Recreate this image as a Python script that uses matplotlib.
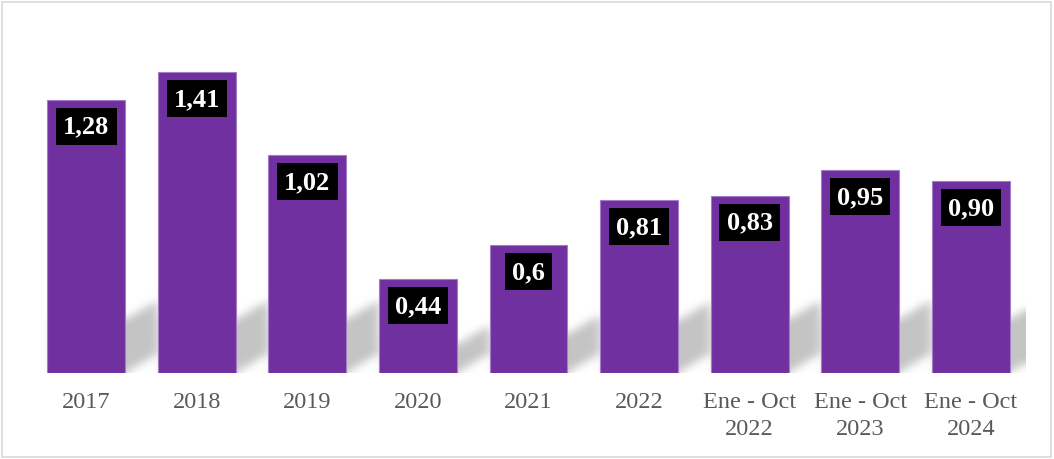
import numpy as np
import matplotlib.pyplot as plt
from matplotlib.patches import Rectangle

categories = ['2017', '2018', '2019', '2020', '2021', '2022',
              'Ene - Oct\n2022', 'Ene - Oct\n2023', 'Ene - Oct\n2024']
values = [1.28, 1.41, 1.02, 0.44, 0.6, 0.81, 0.83, 0.95, 0.90]
value_labels = ['1,28', '1,41', '1,02', '0,44', '0,6', '0,81', '0,83', '0,95', '0,90']

purple = '#7030A0'
bar_w = 0.705

fig = plt.figure(figsize=(10.54, 4.6), dpi=100)
ax = fig.add_axes([31 / 1054, 86 / 460, 995 / 1054, 341.4 / 460])
x = np.arange(len(categories))

# soft shadow behind the bars: band that rises to the right of each bar, then blurred
nx, ny = 1000, 120
sx = np.linspace(-0.5, 8.5, nx)
sy = np.linspace(0, 0.5, ny)
XX, YY = np.meshgrid(sx, sy)
mask = np.zeros_like(XX)
slope = 0.6 * 110.6 / 213.4
for i, v in enumerate(values):
    xl, xr = i - bar_w / 2, i + bar_w / 2
    h = min(0.3 * v, 0.25)
    b = np.clip(XX - xr, 0, None) * slope
    inside = (XX >= xl + 0.05) & (XX <= xr + 0.3) & (YY >= b) & (YY <= b + h)
    mask = np.maximum(mask, inside.astype(float))

def blur(a, sigma, axis):
    r = int(sigma * 3)
    k = np.exp(-0.5 * (np.arange(-r, r + 1) / sigma) ** 2)
    k /= k.sum()
    pad = [(0, 0), (0, 0)]
    pad[axis] = (r, r)
    a = np.pad(a, pad, mode='edge')
    out = np.apply_along_axis(lambda m: np.convolve(m, k, mode='valid'), axis, a)
    return out

mask = blur(blur(mask, 5, 1), 4.5, 0)
img = np.zeros((ny, nx, 4))
img[..., :3] = 0.6
img[..., 3] = np.clip(mask * 0.58, 0, 1)
ax.imshow(img, extent=[-0.5, 8.5, 0, 0.5], origin='lower', aspect='auto', zorder=1,
          interpolation='bilinear')

bars = ax.bar(x, values, width=bar_w, color=purple, edgecolor='#a47cc8', linewidth=0.8, zorder=2)

for xi, v, lab in zip(x, values, value_labels):
    ax.annotate(lab, (xi, v), xytext=(0, -19), textcoords='offset points',
                ha='center', va='center', color='white', fontsize=19, fontweight='bold',
                family='Liberation Serif', zorder=3,
                bbox=dict(boxstyle='square,pad=0.27', fc='black', ec='none'))

ax.set_xlim(-0.5, 8.5)
ax.set_ylim(0, 1.6)
ax.set_xticks(x)
ax.set_xticklabels(categories, family='Liberation Serif', fontsize=17.5, color='#595959',
                   linespacing=1.4)
ax.tick_params(axis='x', length=0, pad=13)
ax.set_yticks([])
for s in ax.spines.values():
    s.set_visible(False)

fig.patches.append(Rectangle((2 / 1054, 2 / 460), 1049 / 1054, 455 / 460,
                             transform=fig.transFigure, fill=False,
                             ec='#d9d9d9', lw=1.2))

fig.savefig('out.png', dpi=100)
